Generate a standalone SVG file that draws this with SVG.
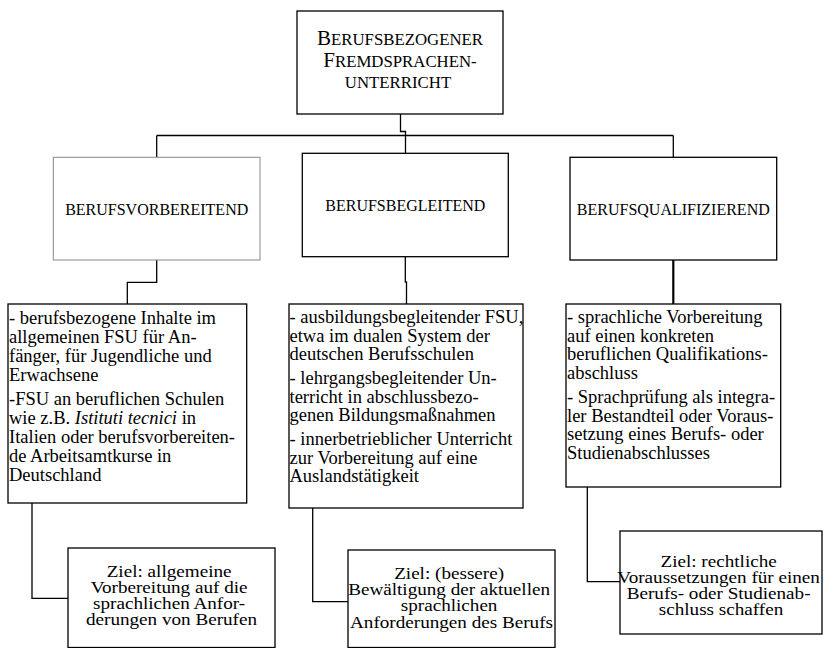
<svg xmlns="http://www.w3.org/2000/svg" width="824" height="648" viewBox="0 0 824 648">
<style>
  text { font-family: "Liberation Serif", "Times New Roman", serif; fill: #000; }
  .box { fill: #fff; stroke: #000; stroke-width: 1.3; }
  .gray { fill: #fff; stroke: #888; stroke-width: 1; }
  .con { fill: none; stroke: #000; stroke-width: 1.3; }
  .thick { stroke-width: 2.2; }
  .lbl { font-size: 16px; text-anchor: middle; }
  .body { font-size: 18.5px; }
  .goal { font-size: 17.4px; text-anchor: middle; }
  .big { font-size: 21px; }
  .sc { font-size: 16.8px; }
</style>
<rect width="824" height="648" fill="#fff"/>
<g id="connectors">
  <path class="con" d="M400.5,114 V131.5 H405.5 V153.3"/>
  <path class="con" d="M156.7,135.5 H673.3"/>
  <path class="con" d="M156.7,135.5 V157.3"/>
  <path class="con" d="M673.3,135.5 V157.3"/>
  <path class="con" d="M156.7,260 V282.3 H127.3 V304"/>
  <path class="con" d="M405.3,256.7 V282 H406.5 V304"/>
  <path class="con thick" d="M673.3,260 V304"/>
  <path class="con" d="M32,503 V598.3 H68"/>
  <path class="con" d="M312.7,508 V601.7 H348"/>
  <path class="con" d="M587.3,487 V581.7 H620"/>
</g>
<g id="root">
  <rect class="box" x="297" y="11" width="206" height="103"/>
  <text x="400" y="45" text-anchor="middle"><tspan class="big">B</tspan><tspan class="sc">ERUFSBEZOGENER</tspan></text>
  <text x="400" y="66.7" text-anchor="middle"><tspan class="big">F</tspan><tspan class="sc">REMDSPRACHEN-</tspan></text>
  <text x="398" y="88.3" text-anchor="middle" class="sc">UNTERRICHT</text>
</g>
<g id="vorbereitend">
  <rect class="gray" x="53.3" y="157.3" width="206.7" height="102.7"/>
  <text class="lbl" x="156.7" y="215">BERUFSVORBEREITEND</text>
</g>
<g id="begleitend">
  <rect class="box" x="302.3" y="153.3" width="206" height="103.4"/>
  <text class="lbl" x="405.3" y="210.7">BERUFSBEGLEITEND</text>
</g>
<g id="qualifizierend">
  <rect class="box" x="570" y="157.3" width="206.7" height="102.7"/>
  <text class="lbl" x="673.3" y="215">BERUFSQUALIFIZIEREND</text>
</g>
<g id="vorbereitend-inhalte">
  <rect class="box" x="8" y="304" width="238.7" height="199"/>
  <text class="body">
    <tspan x="9" y="324">- berufsbezogene Inhalte im</tspan>
    <tspan x="9" y="343">allgemeinen FSU für An-</tspan>
    <tspan x="9" y="362">fänger, für Jugendliche und</tspan>
    <tspan x="9" y="381">Erwachsene</tspan>
    <tspan x="9" y="405">-FSU an beruflichen Schulen</tspan>
    <tspan x="9" y="424">wie z.B. <tspan font-style="italic">Istituti tecnici</tspan> in</tspan>
    <tspan x="9" y="443">Italien oder berufsvorbereiten-</tspan>
    <tspan x="9" y="462">de Arbeitsamtkurse in</tspan>
    <tspan x="9" y="481">Deutschland</tspan>
  </text>
</g>
<g id="begleitend-inhalte">
  <rect class="box" x="289" y="304" width="234" height="204"/>
  <text class="body">
    <tspan x="289.5" y="323">- ausbildungsbegleitender FSU,</tspan>
    <tspan x="289.5" y="341.5">etwa im dualen System der</tspan>
    <tspan x="289.5" y="360">deutschen Berufsschulen</tspan>
    <tspan x="289.5" y="384">- lehrgangsbegleitender Un-</tspan>
    <tspan x="289.5" y="402.5">terricht in abschlussbezo-</tspan>
    <tspan x="289.5" y="421">genen Bildungsmaßnahmen</tspan>
    <tspan x="289.5" y="445">- innerbetrieblicher Unterricht</tspan>
    <tspan x="289.5" y="463.5">zur Vorbereitung auf eine</tspan>
    <tspan x="289.5" y="482">Auslandstätigkeit</tspan>
  </text>
</g>
<g id="qualifizierend-inhalte">
  <rect class="box" x="566" y="304" width="214.7" height="183"/>
  <text class="body">
    <tspan x="567" y="323">- sprachliche Vorbereitung</tspan>
    <tspan x="567" y="341.5">auf einen konkreten</tspan>
    <tspan x="567" y="360">beruflichen Qualifikations-</tspan>
    <tspan x="567" y="379">abschluss</tspan>
    <tspan x="567" y="403">- Sprachprüfung als integra-</tspan>
    <tspan x="567" y="421.5">ler Bestandteil oder Voraus-</tspan>
    <tspan x="567" y="440">setzung eines Berufs- oder</tspan>
    <tspan x="567" y="459">Studienabschlusses</tspan>
  </text>
</g>
<g id="ziel-vorbereitend">
  <rect class="box" x="68" y="548" width="207" height="99.5"/>
  <g transform="translate(171.5 0) scale(1.1 1)">
    <text class="goal">
      <tspan x="0" y="577.5">Ziel: allgemeine</tspan>
      <tspan x="0" y="593.5">Vorbereitung auf die</tspan>
      <tspan x="0" y="609.5">sprachlichen Anfor-</tspan>
      <tspan x="0" y="625">derungen von Berufen</tspan>
    </text>
  </g>
</g>
<g id="ziel-begleitend">
  <rect class="box" x="348" y="550" width="207" height="97.5"/>
  <g transform="translate(451.5 0) scale(1.1 1)">
    <text class="goal">
      <tspan x="0" y="579.5">Ziel: (bessere)</tspan>
      <tspan x="0" y="595.5">Bewältigung der aktuellen</tspan>
      <tspan x="0" y="611.5">sprachlichen</tspan>
      <tspan x="0" y="628">Anforderungen des Berufs</tspan>
    </text>
  </g>
</g>
<g id="ziel-qualifizierend">
  <rect class="box" x="620" y="531" width="202" height="103"/>
  <g transform="translate(721 0) scale(1.1 1)">
    <text class="goal">
      <tspan x="0" y="567.5">Ziel: rechtliche</tspan>
      <tspan x="0" y="583.5">Voraussetzungen für einen</tspan>
      <tspan x="0" y="599">Berufs- oder Studienab-</tspan>
      <tspan x="0" y="615">schluss schaffen</tspan>
    </text>
  </g>
</g>
</svg>
